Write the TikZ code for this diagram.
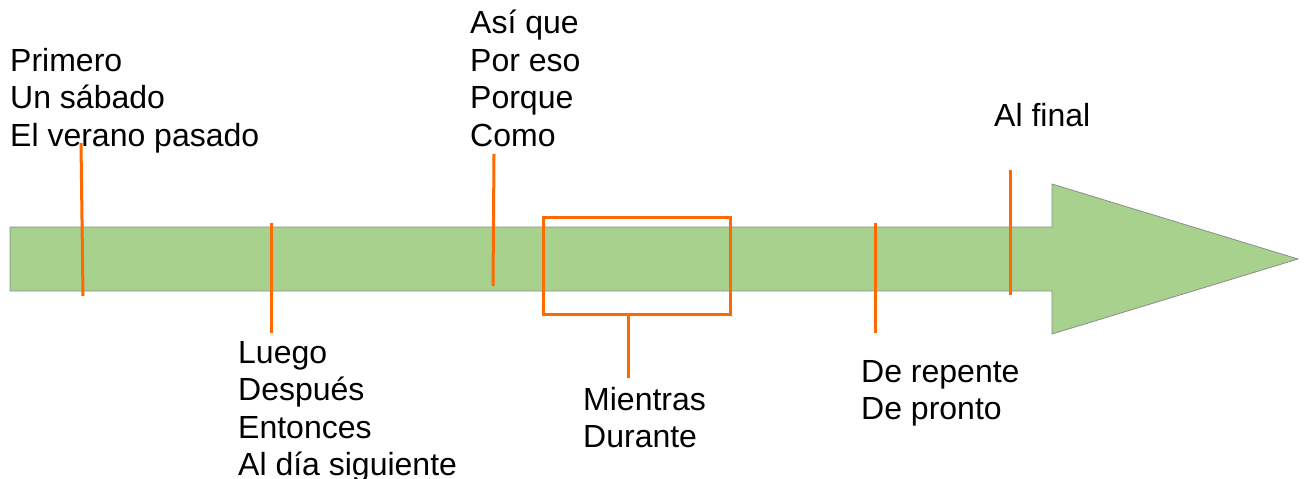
\documentclass[tikz,border=0pt]{standalone}
\usepackage{fontspec}
\setmainfont{Liberation Sans}
\definecolor{shaft}{HTML}{A9D18E}
\definecolor{rim}{HTML}{8C8C8C}
\definecolor{tick}{HTML}{FF6A00}
\begin{document}
\begin{tikzpicture}[x=1pt,y=-1pt,
  lbl/.style={anchor=north west,inner sep=0pt,align=left,font=\fontsize{32}{37.5}\selectfont},
  mark line/.style={draw=tick,line width=3pt},
  every node/.style={}]
\useasboundingbox (0,0) rectangle (1304,479);
% arrow
\draw[fill=shaft,draw=rim,line width=0.8pt] (10,227) -- (1052,227) -- (1052,184) -- (1298,259) -- (1052,334) -- (1052,291) -- (10,291) -- cycle;
% ticks
\coordinate (t1a) at (81,143); \coordinate (t1b) at (83,296);
\coordinate (t2a) at (271,223); \coordinate (t2b) at (271,333);
\coordinate (t3a) at (494,154); \coordinate (t3b) at (493,286);
\coordinate (t5a) at (875,223); \coordinate (t5b) at (875,333);
\coordinate (t6a) at (1010,170); \coordinate (t6b) at (1010,295);
\draw[mark line] (t1a) -- (t1b);
\draw[mark line] (t2a) -- (t2b);
\draw[mark line] (t3a) -- (t3b);
\draw[mark line] (t5a) -- (t5b);
\draw[mark line] (t6a) -- (t6b);
\node[draw=tick,line width=3pt,minimum width=187pt,minimum height=97pt,inner sep=0pt] (box) at (636.5,265.5) {};
\coordinate (stem) at (628,378);
\draw[mark line] (box.south -| stem) -- (stem);
% labels
\node[lbl] (l1) at (10,48) {Primero\\Un sábado\\El verano pasado};
\node[lbl] (l2) at (238,341) {Luego\\Después\\Entonces\\Al día siguiente};
\node[lbl] (l3) at (470,10) {Así que\\Por eso\\Porque\\Como};
\node[lbl] (l4) at (583,387) {Mientras\\Durante};
\node[lbl] (l5) at (861,360) {De repente\\De pronto};
\node[lbl] (l6) at (994,103) {Al final};
\end{tikzpicture}
\end{document}
